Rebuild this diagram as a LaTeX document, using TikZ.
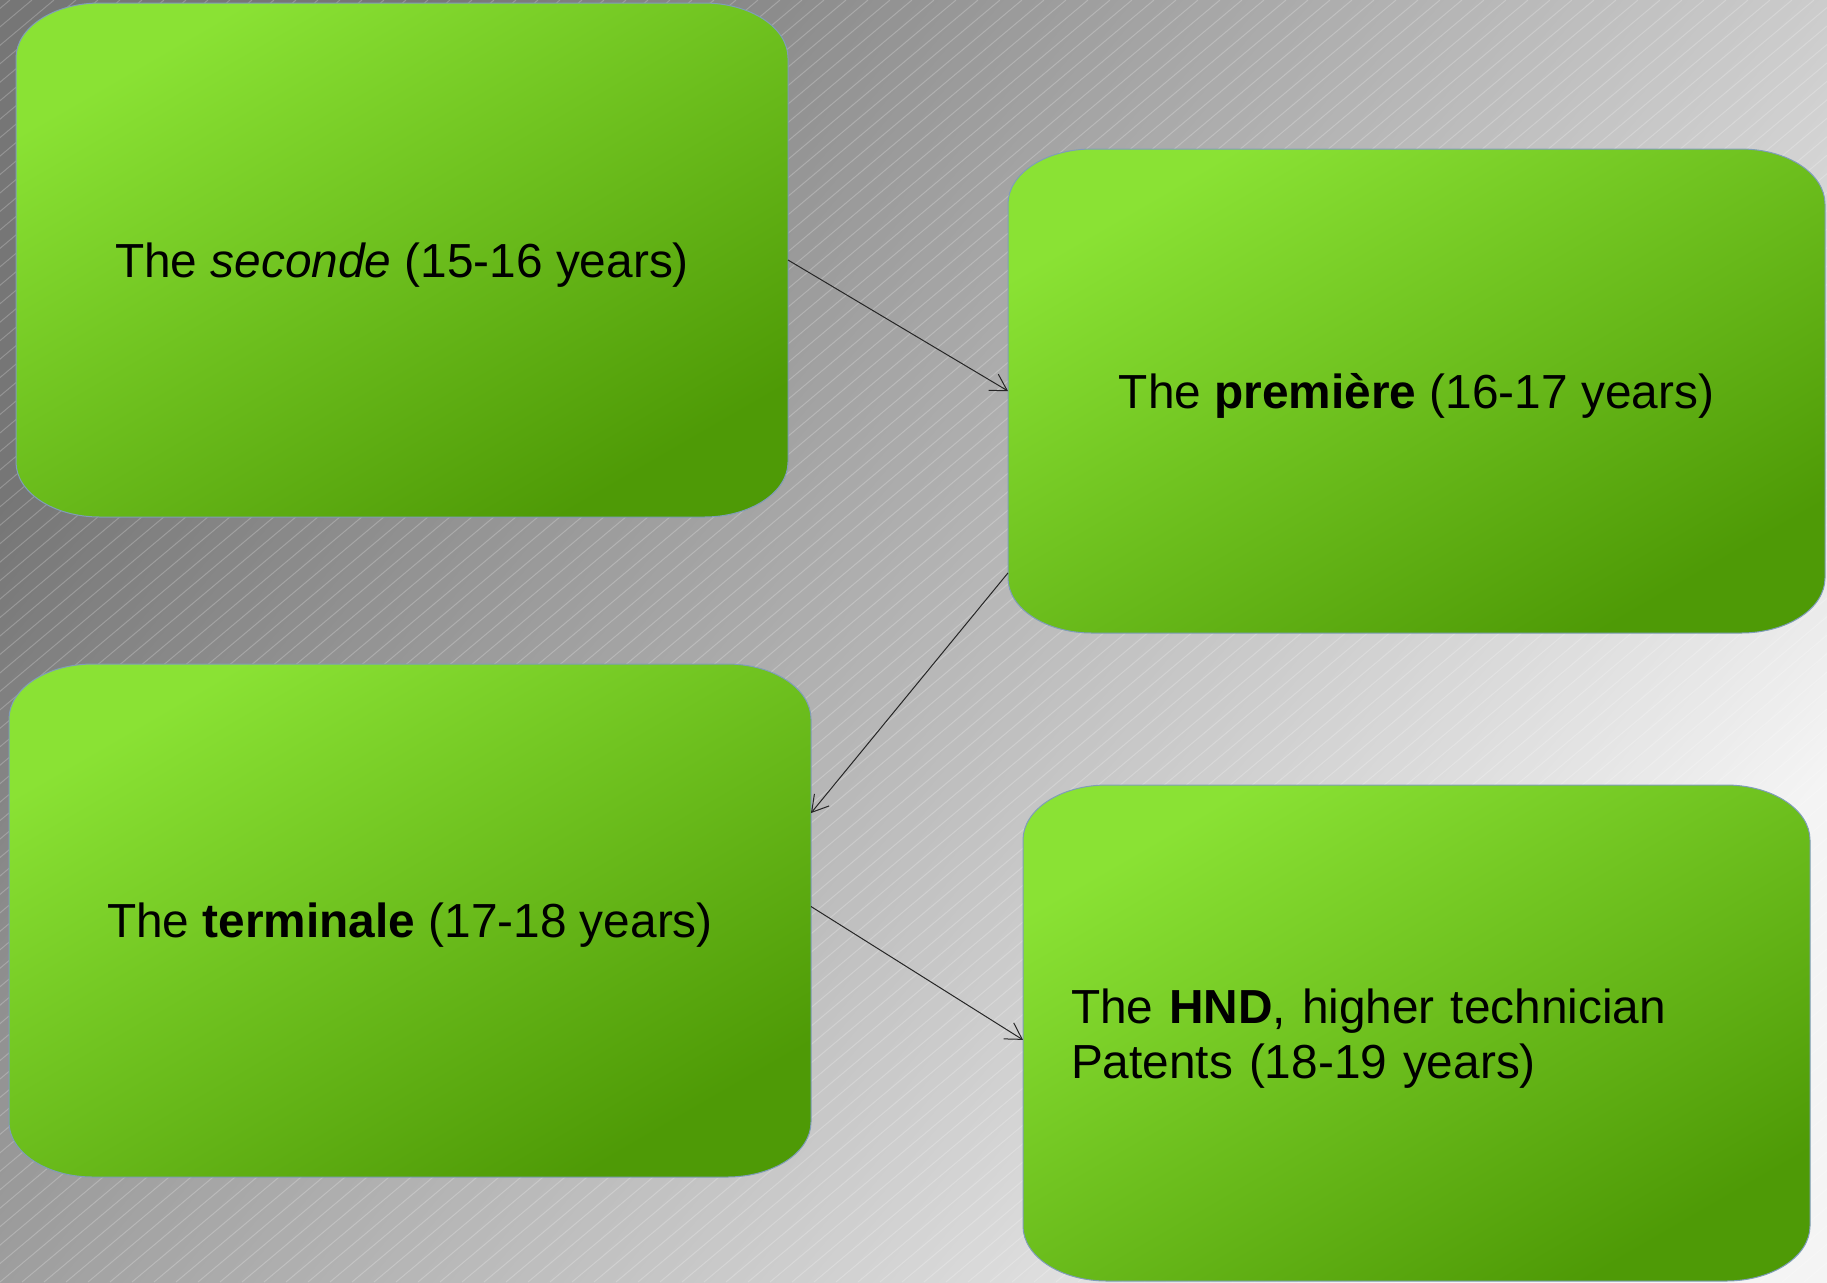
\documentclass[tikz,border=0pt]{standalone}
\usepackage{fontspec}
\setmainfont{Liberation Sans}
\usetikzlibrary{arrows.meta,backgrounds}
\definecolor{stagelight}{HTML}{8AE234}
\definecolor{stagedark}{HTML}{4E9A06}
\definecolor{stageline}{HTML}{7F9DB9}
\definecolor{pagedark}{HTML}{767676}
\definecolor{pagelight}{HTML}{F4F4F4}
\tikzset{
  stage/.style={inner sep=0pt, outer sep=0pt, align=center, text depth=0pt,
    font=\fontsize{23.9}{27.5}\selectfont},
  stagefill/.style={top color=stagelight, bottom color=stagedark,
    shading angle=30, draw=stageline, line width=0.5pt},
  link/.style={draw=black!85, line width=0.5pt,
    -{Straight Barb[length=8pt,width=9.5pt]}},
}
% box with oval corners behind a stage node
\newcommand{\stageshape}[1]{%
  \path[stagefill] ([xshift=42pt]#1.north west) -- ([xshift=-42pt]#1.north east)
    arc[start angle=90, end angle=0, x radius=42pt, y radius=27.5pt]
    -- ([yshift=27.5pt]#1.south east)
    arc[start angle=0, end angle=-90, x radius=42pt, y radius=27.5pt]
    -- ([xshift=42pt]#1.south west)
    arc[start angle=270, end angle=180, x radius=42pt, y radius=27.5pt]
    -- ([yshift=-27.5pt]#1.north west)
    arc[start angle=180, end angle=90, x radius=42pt, y radius=27.5pt]
    -- cycle;}
\begin{document}
\begin{tikzpicture}[x=0.5pt,y=-0.5pt]
\useasboundingbox (0,0) rectangle (1827,1282);
% Stages
\node[stage, minimum width=386pt, minimum height=257pt] (s) at (402,260)
  {The \textit{seconde} (15-16 years)};
\node[stage, minimum width=408.5pt, minimum height=242pt] (p) at (1416.5,391)
  {The \textbf{première} (16-17 years)};
\node[stage, minimum width=401pt, minimum height=256.5pt] (t) at (410,920.5)
  {The \textbf{terminale} (17-18 years)};
\node[stage, minimum width=393.5pt, minimum height=248pt, text width=345.5pt,
  align=left, text depth=26.7pt] (h) at (1416.5,1033)
  {The \textbf{HND}, higher technician\\Patents (18-19 years)};
% Background and boxes
\begin{pgfonlayer}{background}
  \shade[top color=pagedark, bottom color=pagelight, shading angle=50]
    (0,0) rectangle (1827,1282);
  \begin{scope}
    \clip (0,0) rectangle (1827,1282);
    \foreach \i in {-70,...,84}
      \draw[white, opacity=0.22, line width=0.5pt] (22*\i,1282) -- (22*\i+1528,0);
  \end{scope}
  \foreach \n in {s,p,t,h}{\stageshape{\n}}
\end{pgfonlayer}
% Links
\draw[link] (s.east) -- (p.west);
\draw[link] (p.204) -- (t.15);
\draw[link] (t.2) -- (h.181);
\end{tikzpicture}
\end{document}
